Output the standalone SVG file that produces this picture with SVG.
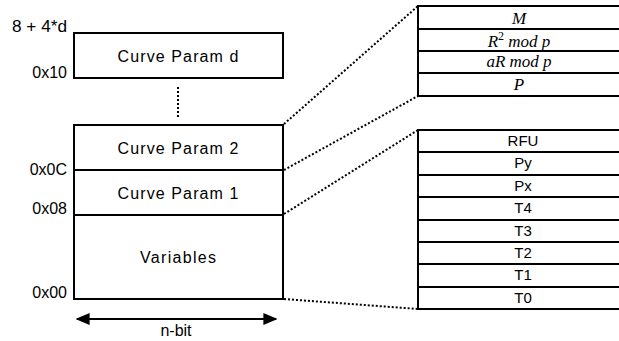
<svg xmlns="http://www.w3.org/2000/svg" width="619" height="341" viewBox="0 0 619 341">
<defs>
<style>
.box{fill:#fff;stroke:#000;stroke-width:2}
.ln{stroke:#000;stroke-width:2;fill:none}
.dot{stroke:#000;stroke-width:2;stroke-dasharray:2 2;fill:none}
.lbl{font-family:"Liberation Sans",Arial,sans-serif;font-size:16px;fill:#000}
.cell{font-family:"Liberation Sans",Arial,sans-serif;font-size:15px;fill:#000;text-anchor:middle}
.math{font-family:"Liberation Serif","Times New Roman",serif;font-style:italic;font-size:17px;fill:#000;text-anchor:middle}
.mid{text-anchor:middle}
.end{text-anchor:end}
</style>
<marker id="ah" viewBox="0 0 10 10" refX="9" refY="5" markerWidth="7" markerHeight="6" orient="auto-start-reverse" markerUnits="strokeWidth" preserveAspectRatio="none">
<path d="M0,0 L10,5 L0,10 z" fill="#000"/>
</marker>
</defs>
<rect width="619" height="341" fill="#fff"/>

<g id="connectors">
<line class="dot" x1="178" y1="87" x2="178" y2="118"/>
<line class="dot" x1="284" y1="124" x2="418" y2="6"/>
<line class="dot" x1="284" y1="170" x2="418" y2="96"/>
<line class="dot" x1="284" y1="214" x2="418" y2="130"/>
<line class="dot" x1="284" y1="299" x2="418" y2="309"/>
<line class="ln" x1="77" y1="319" x2="276" y2="319" marker-start="url(#ah)" marker-end="url(#ah)"/>
</g>

<g id="labels">
<text class="lbl end" x="67" y="32" textLength="55" lengthAdjust="spacingAndGlyphs">8 + 4*d</text>
<text class="lbl end" x="67" y="78">0x10</text>
<text class="lbl end" x="67" y="175">0x0C</text>
<text class="lbl end" x="67" y="214">0x08</text>
<text class="lbl end" x="67" y="298">0x00</text>
<text class="lbl mid" x="176" y="336">n-bit</text>
</g>

<g id="curve-param-d">
<rect class="box" x="74" y="33" width="209" height="45"/>
<text class="lbl mid" x="178" y="62" textLength="121" lengthAdjust="spacing">Curve Param d</text>
</g>
<g id="curve-param-2">
<rect class="box" x="74" y="125" width="209" height="45"/>
<text class="lbl mid" x="178" y="154" textLength="121" lengthAdjust="spacing">Curve Param 2</text>
</g>
<g id="curve-param-1">
<rect class="box" x="74" y="170" width="209" height="45"/>
<text class="lbl mid" x="178" y="199" textLength="121" lengthAdjust="spacing">Curve Param 1</text>
</g>
<g id="variables">
<rect class="box" x="74" y="215" width="209" height="84"/>
<text class="lbl mid" x="178" y="263" textLength="76" lengthAdjust="spacing">Variables</text>
</g>

<g id="param-table">
<path class="ln" d="M630,6 H418 V96 H630 M418,29 H630 M418,51 H630 M418,73 H630"/>
<text class="math" x="519" y="24">M</text>
<text class="math" x="519" y="47">R<tspan dy="-7" font-size="12" font-style="normal">2</tspan><tspan dy="7"> mod p</tspan></text>
<text class="math" x="519" y="67">aR mod p</text>
<text class="math" x="519" y="90">P</text>
</g>

<g id="variable-table">
<path class="ln" d="M630,130 H418 V309 H630 M418,152 H630 M418,175 H630 M418,197 H630 M418,220 H630 M418,242 H630 M418,264 H630 M418,287 H630"/>
<text class="cell" x="523" y="146">RFU</text>
<text class="cell" x="523" y="168">Py</text>
<text class="cell" x="523" y="191">Px</text>
<text class="cell" x="523" y="213">T4</text>
<text class="cell" x="523" y="236">T3</text>
<text class="cell" x="523" y="258">T2</text>
<text class="cell" x="523" y="280">T1</text>
<text class="cell" x="523" y="303">T0</text>
</g>
</svg>
